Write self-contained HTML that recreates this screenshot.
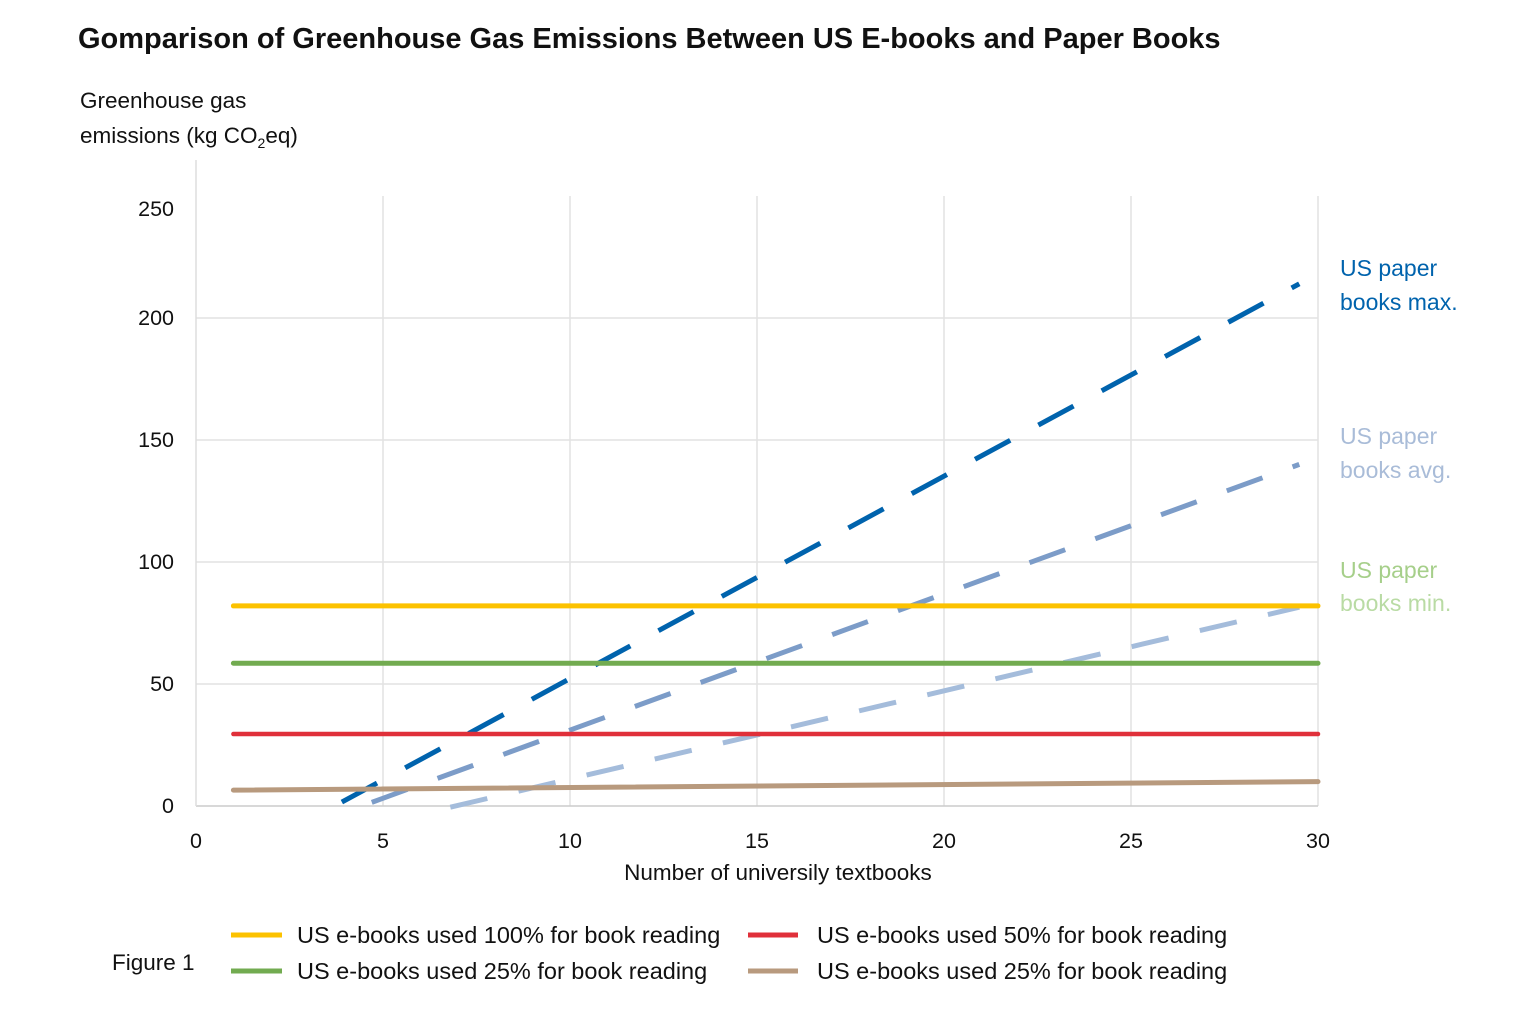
<!DOCTYPE html>
<html><head><meta charset="utf-8">
<style>
body{margin:0;background:#fff;}
svg{display:block;font-family:"Liberation Sans",sans-serif;}
</style></head>
<body>
<svg id="chart" width="1536" height="1024" viewBox="0 0 1536 1024">
<text x="78" y="48" font-size="29" font-weight="bold" fill="#111">Gomparison of Greenhouse Gas Emissions Between US E-books and Paper Books</text>
<text x="80" y="108" font-size="22.5" fill="#111">Greenhouse gas</text>
<text x="80" y="143" font-size="22.5" fill="#111">emissions (kg CO<tspan font-size="14" dy="5">2</tspan><tspan dy="-5">eq)</tspan></text>
<g id="grid"></g>
<g id="series"></g>
<g id="ticks"></g>
<text x="778" y="880" font-size="22.5" text-anchor="middle" fill="#111">Number of universily textbooks</text>
<g font-size="23">
<text x="1340" y="276" fill="#0063ad">US paper</text>
<text x="1340" y="310" fill="#0063ad">books  max.</text>
<text x="1340" y="444" fill="#a9bcd8">US paper</text>
<text x="1340" y="478" fill="#a9bcd8">books avg.</text>
<text x="1340" y="578" fill="#a6cf8a">US paper</text>
<text x="1340" y="611" fill="#b9dba4">books min.</text>
</g>
<g font-size="23.5" fill="#111">
<text x="112" y="970" font-size="22.5">Figure 1</text>
<line x1="231" y1="935" x2="282" y2="935" stroke="#fcc200" stroke-width="5"/>
<text x="297" y="943">US e-books used 100% for book reading</text>
<line x1="231" y1="971" x2="282" y2="971" stroke="#72ab50" stroke-width="5"/>
<text x="297" y="979">US e-books used 25% for book reading</text>
<line x1="748" y1="935" x2="798" y2="935" stroke="#e0303a" stroke-width="5"/>
<text x="817" y="943">US e-books used 50% for book reading</text>
<line x1="748" y1="971" x2="798" y2="971" stroke="#b89a7e" stroke-width="5"/>
<text x="817" y="979">US e-books used 25% for book reading</text>
</g>
</svg>
<script>
const xTicks=[0,5,10,15,20,25,30];
const yTicks=[0,50,100,150,200,250];
const ebookX=[1,30];
const ebook100=[82,82];
const ebook25g=[58.5,58.5];
const ebook50=[29.5,29.5];
const ebook25t=[6.5,10];
const maxX=[3.9,29.5];
const maxV=[1.6,214];
const avgX=[4.7,29.5];
const avgV=[1.5,140];
const minX=[6.8,29.5];
const minV=[-0.5,81.5];
const NS='http://www.w3.org/2000/svg';
const X0=196,X1=1318,Y0=806,Y250=196;
function sx(v){return X0+(v/30)*(X1-X0);}
function sy(v){return Y0-(v/250)*(Y0-Y250);}
function mk(tag,attrs,parent){const e=document.createElementNS(NS,tag);for(const k in attrs)e.setAttribute(k,attrs[k]);parent.appendChild(e);return e;}
const grid=document.getElementById('grid'),ser=document.getElementById('series'),tk=document.getElementById('ticks');
yTicks.forEach(t=>{if(t===0||t===250)return;
 const l=mk('line',{x1:X0,x2:X1,y1:sy(t),y2:sy(t),stroke:'#e2e2e2','stroke-width':1.5},grid);
 
 });
xTicks.forEach(t=>{if(t===0)return;
 const l=mk('line',{x1:sx(t),x2:sx(t),y1:Y250,y2:Y0,stroke:'#e2e2e2','stroke-width':1.5},grid);
 
 });
const ax=mk('line',{x1:X0,x2:X1,y1:Y0,y2:Y0,stroke:'#ccc','stroke-width':1.5},grid);


const ay=mk('line',{x1:X0,x2:X0,y1:160,y2:Y0,stroke:'#ddd','stroke-width':1.5},grid);


yTicks.forEach(t=>{const e=mk('text',{x:174,y:(t===250?sy(t)+20:sy(t)+7),'font-size':21.5,'text-anchor':'end',fill:'#111'},tk);e.textContent=t;
 
 });
xTicks.forEach(t=>{const e=mk('text',{x:sx(t),y:848,'font-size':21.5,'text-anchor':'middle',fill:'#111'},tk);e.textContent=t;
 
 });
function line(xs,vs,color,w,dash,name){
 const p=mk('polyline',{points:xs.map((x,i)=>sx(x)+','+sy(vs[i])).join(' '),fill:'none',stroke:color,'stroke-width':w,'stroke-linecap':dash?'butt':'round'},ser);
 if(dash)p.setAttribute('stroke-dasharray',dash);
 
 }
line(minX,minV,'#a4bcdb',5,'38 32','line-paper-min');
line(avgX,avgV,'#7c9cc8',5,'38 32','line-paper-avg');
line(maxX,maxV,'#0063ad',5,'40 32','line-paper-max');
line(ebookX,ebook25t,'#b89a7e',5,null,'line-ebook-25-tan');
line(ebookX,ebook50,'#e0303a',4.5,null,'line-ebook-50');
line(ebookX,ebook25g,'#72ab50',5,null,'line-ebook-25-green');
line(ebookX,ebook100,'#fcc200',5,null,'line-ebook-100');
</script>
</body></html>
